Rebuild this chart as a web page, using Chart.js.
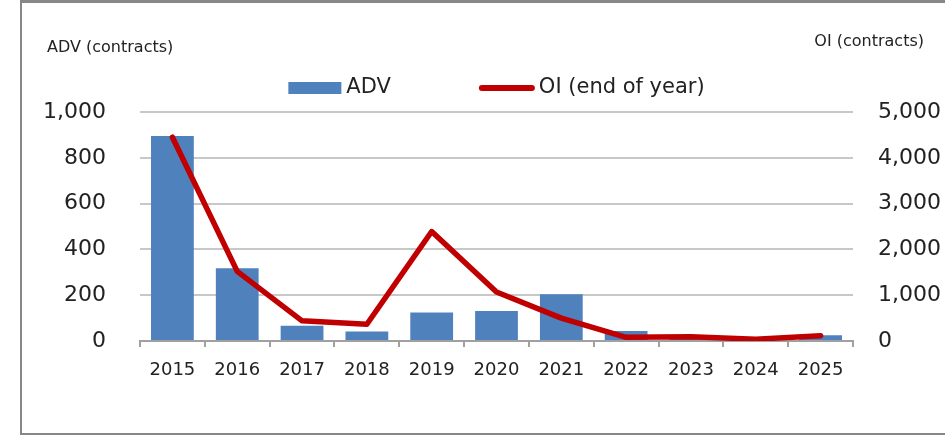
<!DOCTYPE html>
<html>
<head>
<meta charset="utf-8">
<script src="https://cdn.jsdelivr.net/npm/chart.js@4"></script>
<style>
  html, body { margin: 0; padding: 0; overflow: hidden; background: #fff; width: 945px; height: 435px; }
  #frame { position: absolute; left: 20px; top: 0; width: 1000px; height: 435px; box-sizing: border-box; border: 2px solid #878787; border-top-width: 3px; }
  #c { position: absolute; left: 0; top: 0; }
</style>
</head>
<body>
<div id="frame"></div>
<canvas id="c" width="945" height="435"></canvas>
<script>
const years = ['2015','2016','2017','2018','2019','2020','2021','2022','2023','2024','2025'];
const advValues = [895, 318, 67, 41, 125, 131, 204, 44, 14, 8, 25];
const oiValues = [4450, 1520, 440, 365, 2390, 1070, 500, 80, 95, 40, 115];
const advLabel = 'ADV';
const oiLabel = 'OI (end of year)';
const leftTitle = 'ADV (contracts)';
const rightTitle = 'OI (contracts)';

const FONT = '"DejaVu Sans", Verdana, sans-serif';
const fmt = v => Number(v).toLocaleString('en-US');

const extrasPlugin = {
  id: 'extras',
  afterDraw(chart) {
    const ctx = chart.ctx;
    const ca = chart.chartArea;
    ctx.save();
    // axis titles
    ctx.fillStyle = '#222';
    ctx.font = '16px ' + FONT;
    ctx.textBaseline = 'middle';
    ctx.textAlign = 'left';
    ctx.fillText(leftTitle, 47, 48);
    ctx.textAlign = 'right';
    ctx.fillText(rightTitle, 924, 42);

    // custom legend
    ctx.font = '21px ' + FONT;
    const ds = chart.data.datasets;
    const itemGap = 88;
    const items = ds.map(d => {
      const isLine = d.type === 'line';
      return { d, isLine, mw: isLine ? 56 : 53, gap: isLine ? 4 : 5, tw: ctx.measureText(d.label).width };
    });
    const total = items.reduce((s, it) => s + it.mw + it.gap + it.tw, 0) + itemGap * (items.length - 1);
    let x = (ca.left + ca.right) / 2 - total / 2;
    const y = 88;
    items.forEach(it => {
      const d = it.d;
      if (it.isLine) {
        ctx.strokeStyle = d.borderColor;
        ctx.lineWidth = 6;
        ctx.lineCap = 'round';
        ctx.beginPath();
        ctx.moveTo(x + 3, y);
        ctx.lineTo(x + it.mw - 3, y);
        ctx.stroke();
      } else {
        ctx.fillStyle = d.backgroundColor;
        ctx.fillRect(x, y - 6, it.mw, 12);
      }
      ctx.fillStyle = '#222';
      ctx.textAlign = 'left';
      ctx.textBaseline = 'middle';
      ctx.fillText(d.label, x + it.mw + it.gap, y);
      x += it.mw + it.gap + it.tw + itemGap;
    });
    ctx.restore();
  }
};

new Chart(document.getElementById('c'), {
  data: {
    labels: years,
    datasets: [
      {
        type: 'bar',
        label: advLabel,
        data: advValues,
        backgroundColor: '#4f81bd',
        yAxisID: 'y',
        order: 1,
        categoryPercentage: 1,
        barPercentage: 0.66
      },
      {
        type: 'line',
        label: oiLabel,
        data: oiValues,
        borderColor: '#c00000',
        backgroundColor: '#c00000',
        borderWidth: 5.5,
        pointRadius: 0,
        tension: 0,
        borderJoinStyle: 'round',
        borderCapStyle: 'round',
        yAxisID: 'y1',
        order: 0
      }
    ]
  },
  options: {
    responsive: false,
    animation: false,
    layout: { padding: { top: 112, bottom: 0, left: 0, right: 0 } },
    plugins: {
      legend: { display: false },
      tooltip: { enabled: false }
    },
    scales: {
      x: {
        grid: { display: true, drawOnChartArea: false, drawTicks: true, tickLength: 6, color: '#a0a0a0', lineWidth: 2, offset: true },
        border: { display: true, color: '#a0a0a0', width: 2 },
        ticks: { color: '#222', font: { family: FONT, size: 18 }, padding: 13, maxRotation: 0 },
        afterFit(s) { s.height = 94; }
      },
      y: {
        position: 'left',
        min: 0, max: 1000,
        ticks: { stepSize: 200, color: '#222', font: { family: FONT, size: 22 }, padding: 34, callback: v => fmt(v) },
        grid: { color: '#c8c8c8', lineWidth: 2, drawTicks: false },
        border: { display: false },
        afterFit(s) { s.width = 140; }
      },
      y1: {
        position: 'right',
        min: 0, max: 5000,
        ticks: { stepSize: 1000, color: '#222', font: { family: FONT, size: 22 }, padding: 25, callback: v => fmt(v) },
        grid: { display: false, drawTicks: false },
        border: { display: false },
        afterFit(s) { s.width = 92; }
      }
    }
  },
  plugins: [extrasPlugin]
});
</script>
</body>
</html>
